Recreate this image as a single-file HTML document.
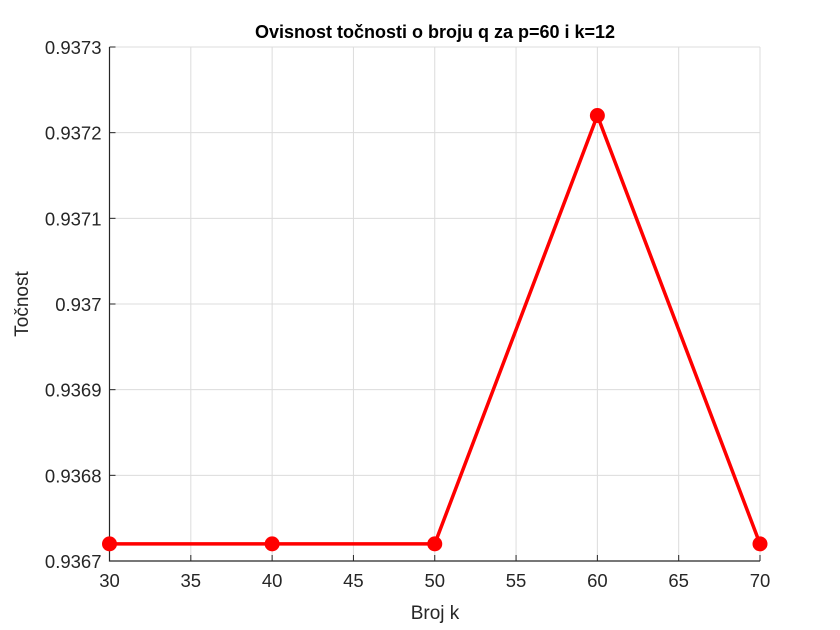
<!DOCTYPE html>
<html><head><meta charset="utf-8"><style>
body{margin:0;background:#fff;}
svg{display:block;font-family:"Liberation Sans",Arial,sans-serif;}
</style></head><body>
<svg id="chart" width="840" height="630" viewBox="0 0 840 630" xmlns="http://www.w3.org/2000/svg">
<rect width="840" height="630" fill="#fff"/>
<text x="435" y="38" text-anchor="middle" font-size="18" font-weight="bold" fill="#000">Ovisnost točnosti o broju q za p=60 i k=12</text>
<text x="435" y="619" text-anchor="middle" font-size="19" fill="#262626">Broj k</text>
<text transform="translate(28,304) rotate(-90)" text-anchor="middle" font-size="19" fill="#262626">Točnost</text>
<g id="grid"></g><g id="axes"></g><g id="series"></g>
</svg>
<script>
const xValues=[30,40,50,60,70];
const yValues=[0.93672,0.93672,0.93672,0.93722,0.93672];
const xTicks=[30,35,40,45,50,55,60,65,70];
const yTicks=[0.9367,0.9368,0.9369,0.937,0.9371,0.9372,0.9373];
const yTickLabels=["0.9367","0.9368","0.9369","0.937","0.9371","0.9372","0.9373"];
const L=109.5,R=760,T=47,B=561;
const NS="http://www.w3.org/2000/svg";
function xs(v){return L+(v-30)/(70-30)*(R-L);}
function ys(v){return B-(v-0.9367)/(0.9373-0.9367)*(B-T);}
function mk(tag,attrs,parent){const e=document.createElementNS(NS,tag);for(const k in attrs)e.setAttribute(k,attrs[k]);document.getElementById(parent).appendChild(e);return e;}
xTicks.forEach(t=>{const x=xs(t);
 const g=mk('line',{x1:x,x2:x,y1:T,y2:B,stroke:'#dcdcdc','stroke-width':1},'grid');
 
 
 const tk=mk('line',{x1:x,x2:x,y1:B,y2:B-6,stroke:'#262626','stroke-width':1},'axes');
 
 
 const tx=mk('text',{x:x,y:B+26,'text-anchor':'middle','font-size':18.5,fill:'#262626'},'axes');tx.textContent=t;
 
 
});
yTicks.forEach((t,i)=>{const y=ys(t);
 const g=mk('line',{x1:L,x2:R,y1:y,y2:y,stroke:'#dcdcdc','stroke-width':1},'grid');
 
 
 const tk=mk('line',{x1:L,x2:L+6,y1:y,y2:y,stroke:'#262626','stroke-width':1},'axes');
 
 
 const tx=mk('text',{x:L-8,y:y+7,'text-anchor':'end','font-size':18.5,fill:'#262626'},'axes');tx.textContent=yTickLabels[i];
 
 
});
const ax=mk('path',{d:`M${L},${T}V${B}H${R}`,fill:'none',stroke:'#262626','stroke-width':1.2},'axes');


const pts=xValues.map((v,i)=>xs(v)+','+ys(yValues[i])).join(' ');
const pl=mk('polyline',{points:pts,fill:'none',stroke:'#ff0000','stroke-width':3.5,'stroke-linejoin':'miter'},'series');


xValues.forEach((v,i)=>{const c=mk('circle',{cx:xs(v),cy:ys(yValues[i]),r:7.5,fill:'#ff0000'},'series');
 
 
});
</script>
</body></html>
